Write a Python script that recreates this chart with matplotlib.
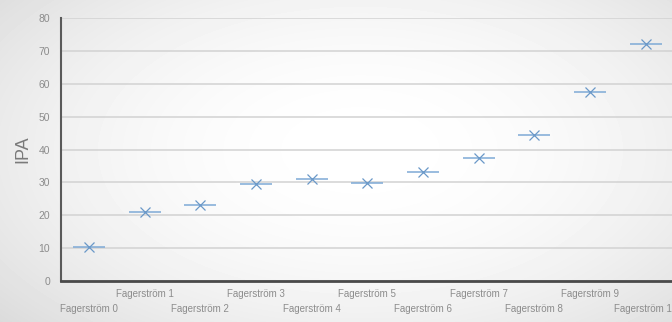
import numpy as np
import matplotlib.pyplot as plt

categories = ["Fagerström %d" % i for i in range(11)]
ipa = [10.3, 21.0, 23.1, 29.5, 31.0, 29.8, 33.1, 37.4, 44.4, 57.4, 72.0]

plt.rcParams['font.family'] = ['Liberation Sans', 'DejaVu Sans']

fig = plt.figure(figsize=(6.72, 3.22), dpi=100)

# soft grey vignette behind the chart
bg = fig.add_axes([0, 0, 1, 1], zorder=-10)
yy, xx = np.mgrid[0:322, 0:672]
r = np.sqrt(((xx - 360) / 420.0) ** 2 + ((yy - 150) / 230.0) ** 2)
shade = 1.0 - 0.11 * np.clip(r, 0, 1.3) ** 2
bg.imshow(shade, cmap='gray', vmin=0, vmax=1, aspect='auto', interpolation='bilinear')
bg.axis('off')

ax = fig.add_axes([0.091, 0.127, 0.911, 0.817])
ax.set_facecolor('none')

x = np.arange(len(categories))
ax.plot(x, ipa, linestyle='none', marker='_', markersize=23, markeredgewidth=1.1,
        color='#7eaad6', zorder=3)
ax.plot(x, ipa, linestyle='none', marker='x', markersize=6.5, markeredgewidth=0.9,
        color='#6a98c8', zorder=4)

ax.set_xlim(-0.5, 10.5)
ax.set_ylim(0, 80)
ax.set_yticks(range(0, 81, 10))
ax.yaxis.grid(True, color='#d2d2d2', linewidth=1.1)
ax.set_axisbelow(True)

# alternate the category labels over two rows
labels = [("\n" + c) if i % 2 == 0 else c for i, c in enumerate(categories)]
ax.set_xticks(x)
ax.set_xticklabels(labels, fontsize=7, color='#8c8c8c', linespacing=1.55)
ax.tick_params(axis='x', length=0, pad=6)
ax.tick_params(axis='y', length=0, pad=8, labelsize=7.5, labelcolor='#8c8c8c')

for side in ('top', 'right'):
    ax.spines[side].set_visible(False)
ax.spines['left'].set_color('#5a5a5a')
ax.spines['left'].set_linewidth(1.5)
ax.spines['bottom'].set_color('#4a4a4a')
ax.spines['bottom'].set_linewidth(2)

ax.set_ylabel("IPA", fontsize=13, color='#7a7a7a', labelpad=5)

fig.savefig("out.png", dpi=100)
